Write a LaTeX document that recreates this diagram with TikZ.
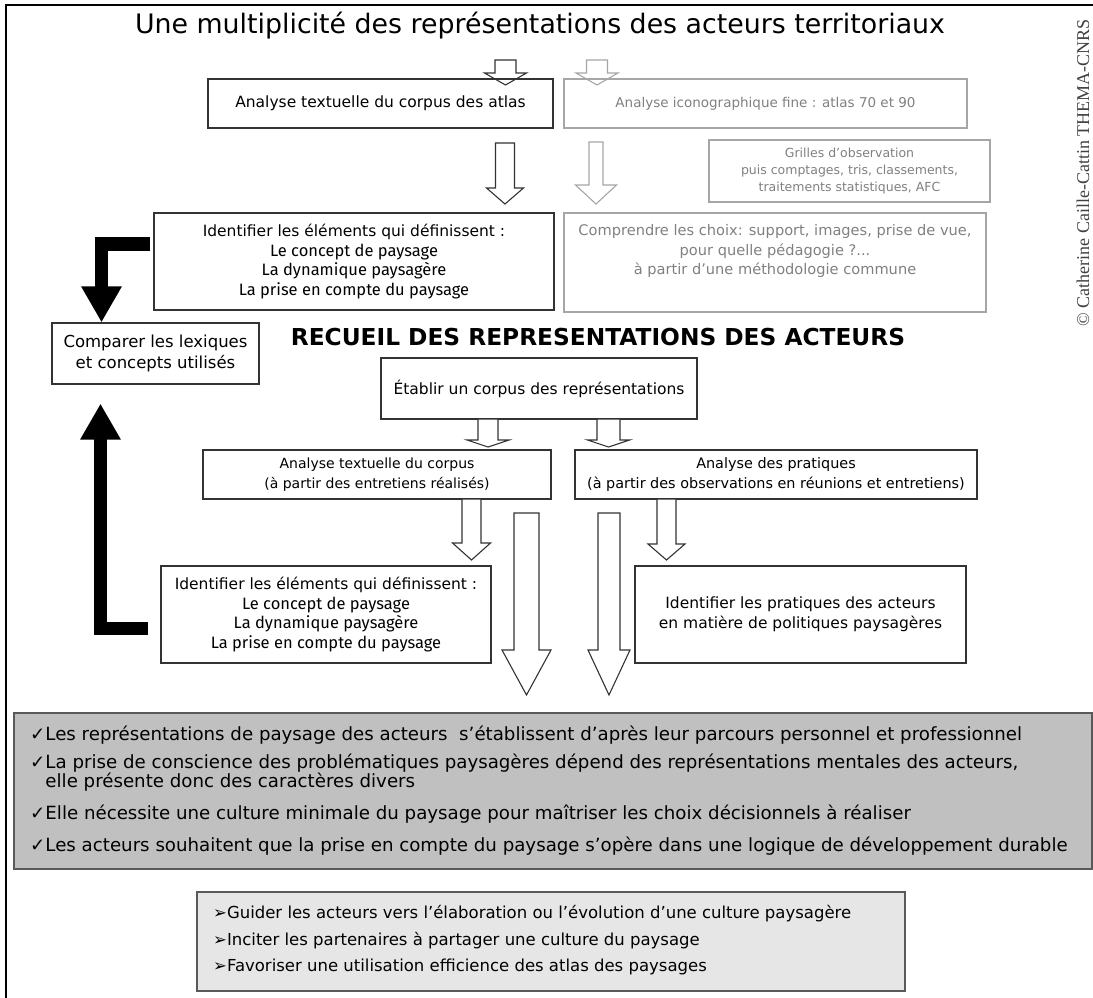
\documentclass[tikz,border=0pt]{standalone}
\usepackage{fontspec}
\setmainfont{DejaVu Sans}
\newfontfamily\humfont{Fira Sans}
\newfontfamily\signfont{Liberation Serif}
\usepackage{xcolor}
\usepackage{tikz}
\usetikzlibrary{arrows.meta, positioning}

\definecolor{linegray}{HTML}{A6A6A6}
\definecolor{textgray}{HTML}{808080}
\definecolor{darkfill}{HTML}{C0C0C0}
\definecolor{lightfill}{HTML}{E6E6E6}

\tikzset{
  box/.style={draw=black!80, line width=1.1pt, align=center, inner sep=0pt,
    font=\fontsize{14}{19.6}\selectfont},
  greybox/.style={box, draw=linegray, text=textgray},
  bigtext/.style={font=\fontsize{15.5}{19.6}\selectfont},
  hollow/.style={draw=black!80, line width=1.1pt, fill=white, line join=miter},
  greyhollow/.style={hollow, draw=linegray},
  fat/.style={line width=13.5pt, -{Triangle[width=38pt,length=36pt]}},
  bullet/.style={anchor=west, inner sep=0pt, font=\fontsize{18.2}{22}\selectfont},
  piste/.style={anchor=west, inner sep=0pt, font=\fontsize{16.5}{20}\selectfont},
}

% hollow block arrow pointing down: [style]{x}{top}{tip}{half shaft}{half head}{head length}
\newcommand{\hollowdown}[7][hollow]{%
  \draw[#1] (#2-#5,#3) -- (#2+#5,#3) -- (#2+#5,#4-#7) -- (#2+#6,#4-#7)
    -- (#2,#4) -- (#2-#6,#4-#7) -- (#2-#5,#4-#7) -- cycle;}
\newcommand{\hum}[1]{{\humfont\fontsize{16.5}{19.6}\selectfont #1}}

\begin{document}
\begin{tikzpicture}[x=1pt, y=-1pt]
			\useasboundingbox (0,0) rectangle (1093,998);
			% Frame and titles:
			\draw[line width=1.3pt] (6,998) -- (6,5) -- (1093,5);
			\node[font=\fontsize{26.8}{30}\selectfont] (titre) at (540,26) {Une multiplicité des représentations des acteurs territoriaux};
			\node[font=\signfont\fontsize{18}{20}\selectfont, text=black!75, rotate=90] (copyright) at (1083,173) {© Catherine Caille-Cattin THEMA-CNRS};
			\node[font=\bfseries\fontsize{23.3}{26}\selectfont] (recueil) at (598,337) {RECUEIL DES REPRESENTATIONS DES ACTEURS};

			% Atlas part:
			\hollowdown{505.5}{60}{85}{10.5}{21}{12}
			\hollowdown[greyhollow]{597}{60}{85}{10.5}{21}{12}
			\node[box, bigtext, minimum width=345pt, minimum height=49pt] (atlas) at (380.5,103.5) {Analyse textuelle du corpus des atlas};
			\node[greybox, font=\fontsize{13.5}{19.6}\selectfont, minimum width=403pt, minimum height=49pt] (icono) at (765.5,103.5) {Analyse iconographique fine : atlas 70 et 90};
			\hollowdown{505}{143}{204}{9.5}{18.5}{16}
			\hollowdown[greyhollow]{596}{142}{204}{7}{20.5}{19}
			\node[greybox, minimum width=281pt, minimum height=62pt, font=\fontsize{12.5}{17}\selectfont] (grilles) at (849.5,171) {Grilles d'observation\\puis comptages, tris, classements,\\traitements statistiques, AFC};
			\node[box, bigtext, minimum width=400pt, minimum height=97pt] (idA) at (354,261.5) {Identifier les éléments qui définissent :\\\hum{Le concept de paysage}\\\hum{La dynamique paysagère}\\\hum{La prise en compte du paysage}};
			\node[greybox, font=\fontsize{14.6}{19.6}\selectfont, minimum width=422pt, minimum height=99pt] (choix) at (775,262.5) {Comprendre les choix: support, images, prise de vue,\\pour quelle pédagogie ?...\\à partir d'une méthodologie commune\\\strut};
			\node[box, font=\fontsize{16.5}{21}\selectfont, minimum width=207pt, minimum height=61pt] (cmp) at (155.5,353.5) {Comparer les lexiques\\et concepts utilisés};
			\draw[fat] ([xshift=-3pt,yshift=17.5pt]idA.west) -| ([xshift=-54pt]cmp.north);

			% Actors part:
			\node[box, font=\fontsize{15.5}{20}\selectfont, minimum width=316pt, minimum height=61pt] (etab) at (539,388.5) {Établir un corpus des représentations};
			\hollowdown{488}{419}{447}{10}{21}{7}
			\hollowdown{608.5}{419}{447}{11.5}{21}{7}
			\node[box, minimum width=348pt, minimum height=49pt] (anatxt) at (377,474.5) {Analyse textuelle du corpus\\(à partir des entretiens réalisés)};
			\node[box, font=\fontsize{14.4}{19.6}\selectfont, minimum width=402pt, minimum height=49pt] (anaprat) at (776,474.5) {Analyse des pratiques\\(à partir des observations en réunions et entretiens)};
			\hollowdown{471.5}{499}{560}{9.5}{19}{17}
			\hollowdown{666.5}{499}{560}{9.5}{18.5}{16}
			\node[box, bigtext, minimum width=330pt, minimum height=97pt] (idB) at (326,614.5) {Identifier les éléments qui définissent :\\\hum{Le concept de paysage}\\\hum{La dynamique paysagère}\\\hum{La prise en compte du paysage}};
			\node[box, bigtext, minimum width=331pt, minimum height=97pt] (idprat) at (800.5,614.5) {Identifier les pratiques des acteurs\\en matière de politiques paysagères};
			\hollowdown{526.5}{513}{695}{12.5}{24.5}{45}
			\hollowdown{609}{513}{695}{11}{21}{45}
			\draw[fat] ([xshift=-12pt,yshift=-14pt]idB.west) -| ([xshift=-55pt,yshift=-19pt]cmp.south);

			% Conclusions:
			\node[draw=black!65, line width=1.3pt, fill=darkfill, minimum width=1078pt, minimum height=156pt] (constat) at (553,791) {};
			\node[bullet] (c1) at (30,735) {✓Les représentations de paysage des acteurs \ s'établissent d'après leur parcours personnel et professionnel};
			\node[bullet] (c2) at (30,763) {✓La prise de conscience des problématiques paysagères dépend des représentations mentales des acteurs,};
			\node[bullet] (c2b) at (30,782) {\phantom{✓}elle présente donc des caractères divers};
			\node[bullet] (c3) at (30,814) {✓Elle nécessite une culture minimale du paysage pour maîtriser les choix décisionnels à réaliser};
			\node[bullet] (c4) at (30,846) {✓Les acteurs souhaitent que la prise en compte du paysage s'opère dans une logique de développement durable};
			\node[draw=black!65, line width=1.3pt, fill=lightfill, minimum width=708pt, minimum height=99pt] (pistes) at (551,941.5) {};
			\node[piste] (p1) at (213,914) {➢Guider les acteurs vers l'élaboration ou l'évolution d'une culture paysagère};
			\node[piste] (p2) at (213,941) {➢Inciter les partenaires à partager une culture du paysage};
			\node[piste] (p3) at (213,967) {➢Favoriser une utilisation efficience des atlas des paysages};
		\end{tikzpicture}
\end{document}
